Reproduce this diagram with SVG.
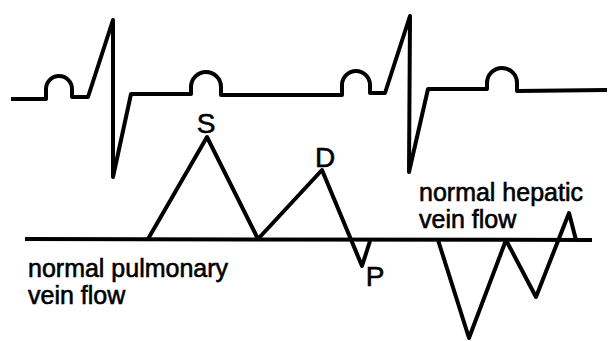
<svg xmlns="http://www.w3.org/2000/svg" width="608" height="341" viewBox="0 0 608 341">
<style>
.tr{fill:none;stroke:#000;stroke-width:4;stroke-linejoin:round;stroke-linecap:butt}
.base{fill:none;stroke:#000;stroke-width:4}
.lbl{font-family:"Liberation Sans",Arial,sans-serif;font-size:25px;fill:#000;stroke:#000;stroke-width:0.6}
.pk{font-family:"Liberation Sans",Arial,sans-serif;font-size:28px;fill:#000;stroke:#000;stroke-width:0.6}
</style>
<rect width="608" height="341" fill="#fff"/>
<g id="ecg">
<path class="tr" d="M11,99 L46,99 L46,89 A13,13 0 0 1 72,89 L72,97 L88,97 L113,20 L113,177 L131,94 L191,94 L191,87 A15,15 0 0 1 221,87 L221,95 L342,95 L342,85 A14,14 0 0 1 370,85 L370,93 L385,93 L410,16 L409,172 L428,89 L487,89 L487,83 A15,15 0 0 1 517,83 L517,91 L607,90"/>
</g>
<g id="connectors">
<line class="base" x1="25" y1="239" x2="592" y2="240"/>
</g>
<g id="pulmonary">
<path class="tr" d="M148,239 L207,137 L258,239 L322,170 L362,266 L370,241"/>
<text class="pk" x="206" y="133" text-anchor="middle">S</text>
<text class="pk" x="325" y="167" text-anchor="middle">D</text>
<text class="pk" x="375" y="286" text-anchor="middle">P</text>
<text class="lbl" x="28" y="277">normal pulmonary</text>
<text class="lbl" x="28" y="304">vein flow</text>
</g>
<g id="hepatic">
<path class="tr" d="M438,240 L469,338 L506,240 L536,297 L569,213 L576,240"/>
<text class="lbl" x="419" y="201">normal hepatic</text>
<text class="lbl" x="419" y="228">vein flow</text>
</g>
</svg>
